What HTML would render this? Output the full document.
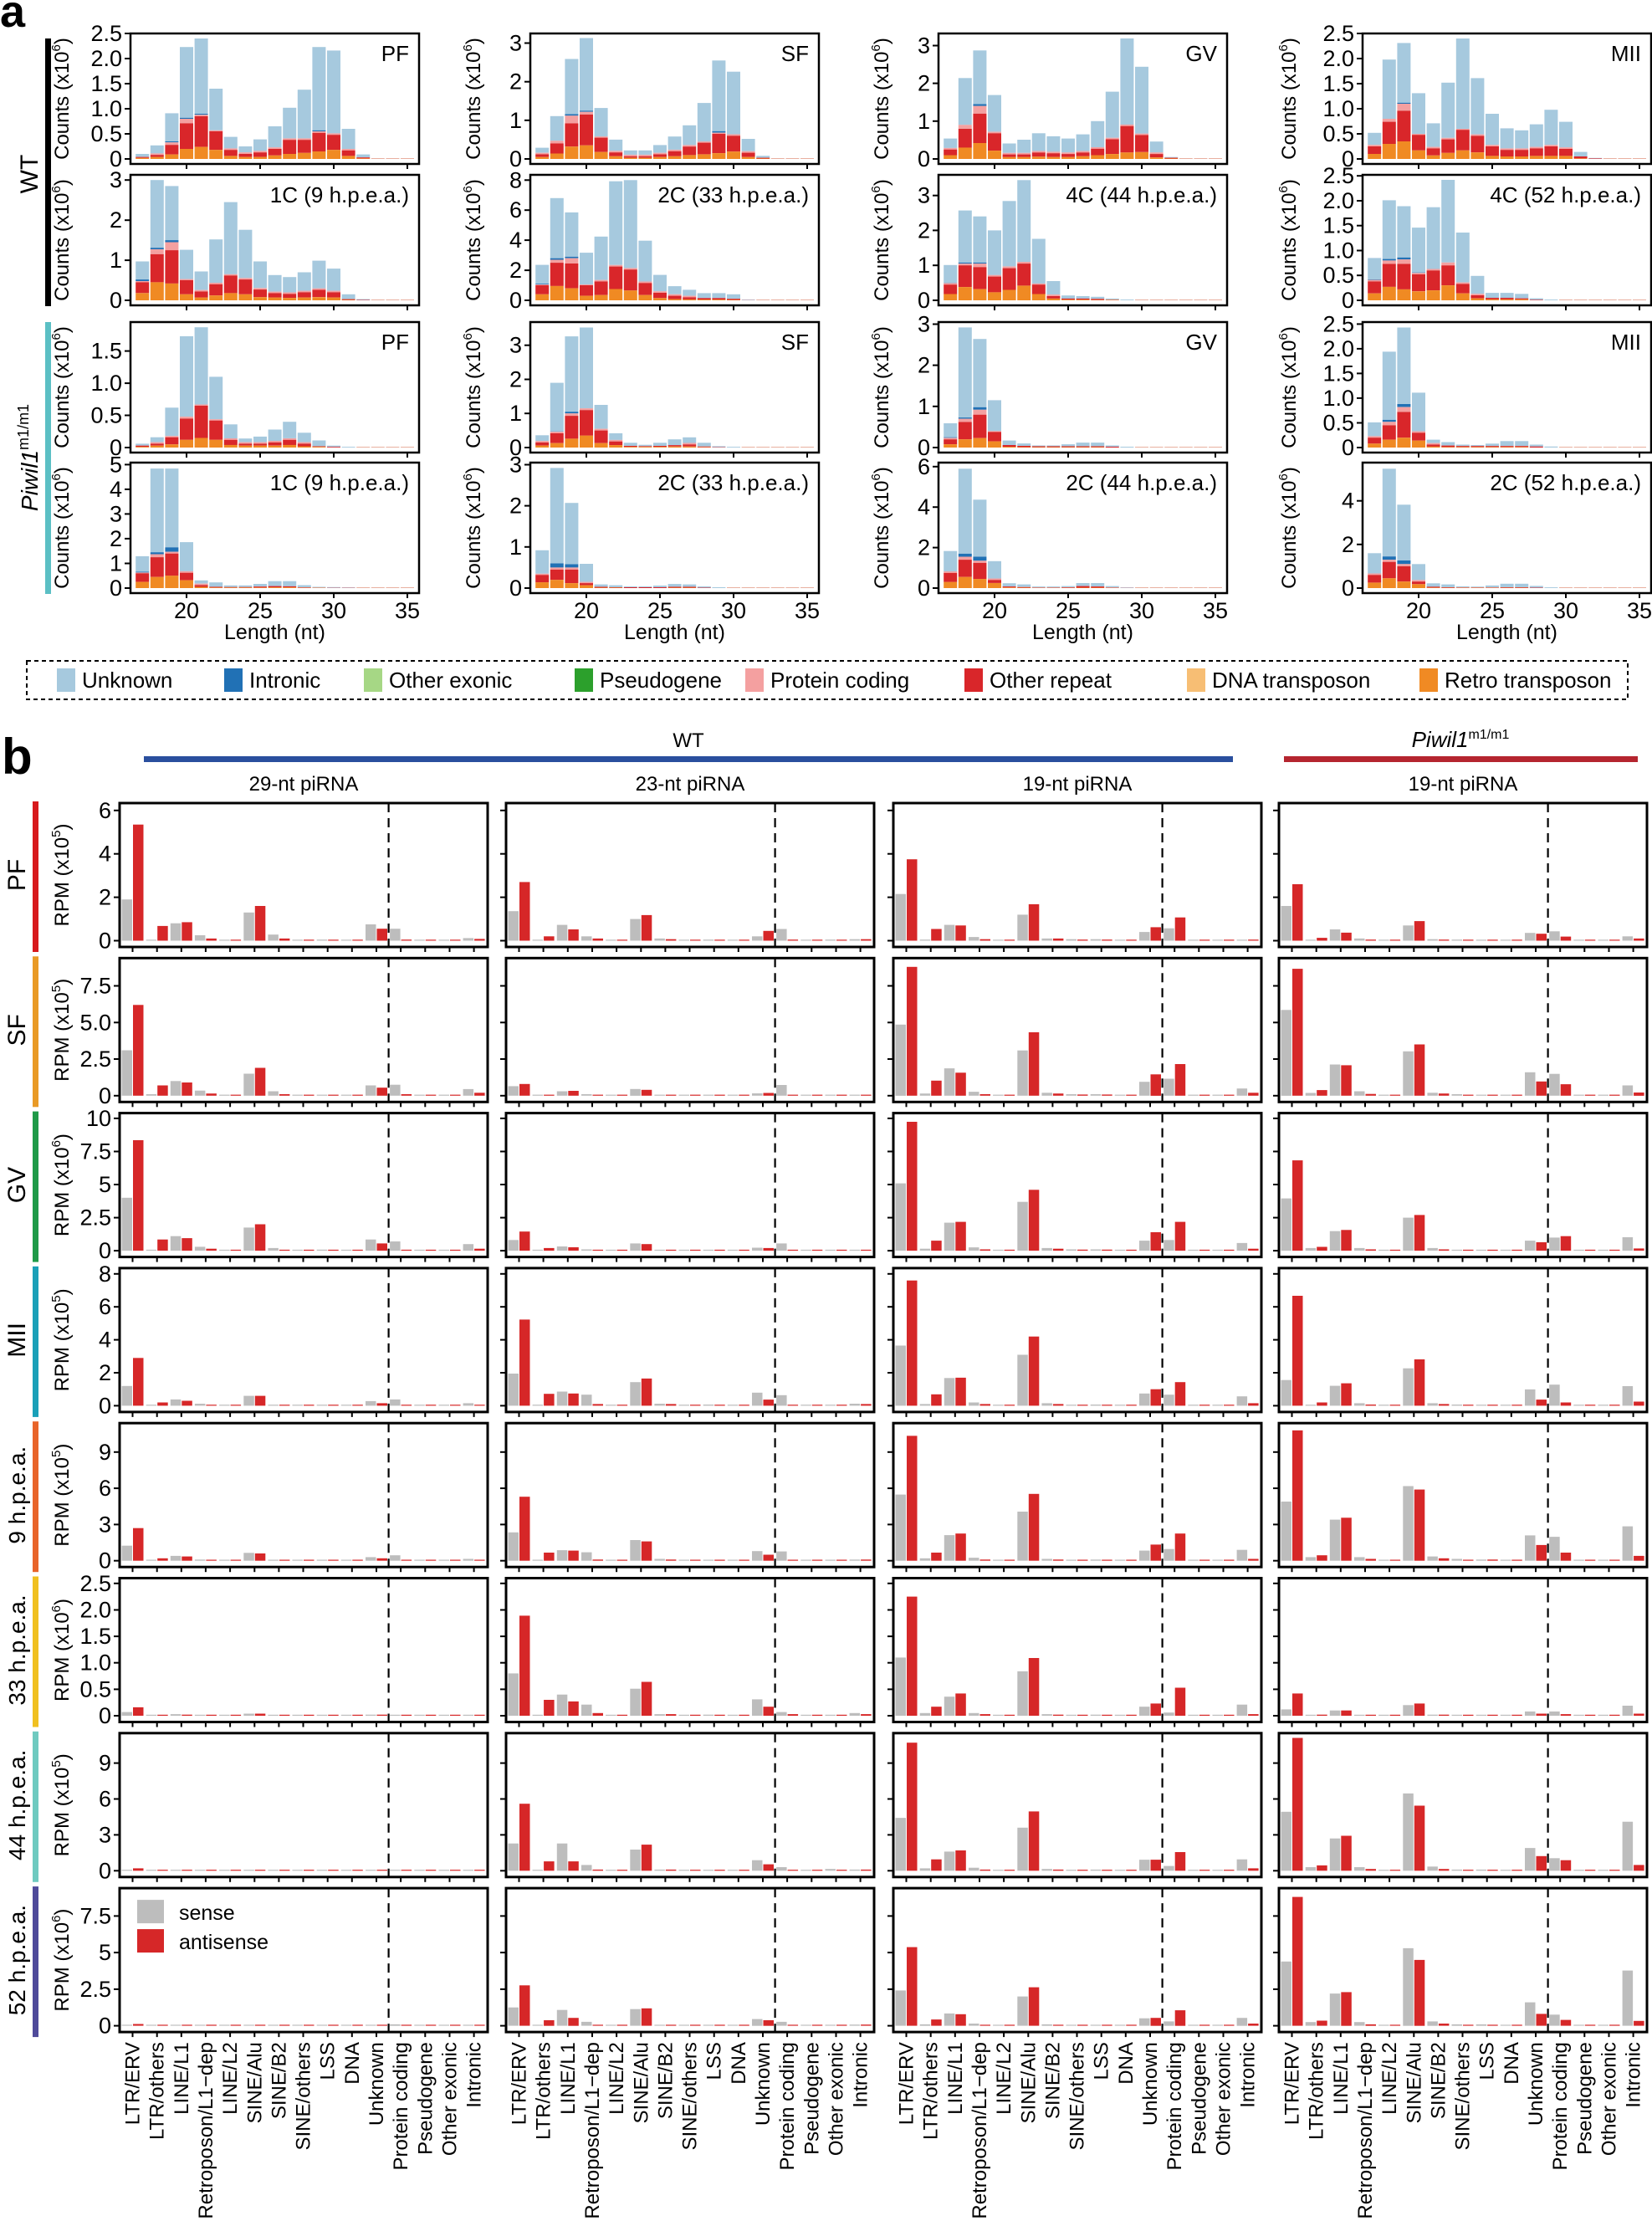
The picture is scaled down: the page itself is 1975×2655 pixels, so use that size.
<!DOCTYPE html>
<html><head><meta charset="utf-8"><style>html,body{margin:0;padding:0;background:#fff}svg{display:block}</style></head>
<body>
<svg id="s" xmlns="http://www.w3.org/2000/svg" width="1975" height="2655" viewBox="0 0 1975 2655" font-family="Liberation Sans, Arial, sans-serif">
<rect width="1975" height="2655" fill="#fff"/>
<text x="0" y="32" font-size="54" font-weight="bold">a</text>
<text x="2" y="925" font-size="60" font-weight="bold">b</text>
<rect x="54" y="46" width="7" height="320" fill="#000"/>
<text transform="translate(45,208) rotate(-90)" text-anchor="middle" font-size="30">WT</text>
<rect x="54" y="385" width="7" height="325" fill="#5bbfc4"/>
<text transform="translate(45,547) rotate(-90)" text-anchor="middle" font-size="28"><tspan font-style="italic">Piwil1</tspan><tspan font-size="18" dy="-11">m1/m1</tspan></text>
<rect x="32" y="790" width="1914" height="46" fill="none" stroke="#000" stroke-width="2" stroke-dasharray="5,4"/>
<rect x="172" y="904" width="1302" height="7" fill="#2a4f9e"/>
<rect x="1535" y="904" width="423" height="7" fill="#b5252f"/>
<text x="823" y="893" text-anchor="middle" font-size="24">WT</text>
<text x="1746" y="893" text-anchor="middle" font-size="26"><tspan font-style="italic">Piwil1</tspan><tspan font-size="16" dy="-10">m1/m1</tspan></text>
<text x="363" y="945" text-anchor="middle" font-size="24">29-nt piRNA</text>
<text x="825" y="945" text-anchor="middle" font-size="24">23-nt piRNA</text>
<text x="1288" y="945" text-anchor="middle" font-size="24">19-nt piRNA</text>
<text x="1749" y="945" text-anchor="middle" font-size="24">19-nt piRNA</text>
<g id="g"></g>
</svg>
<script>
(function(){
var out=[];
function R(x,y,w,h,f){if(!(h>0)||!(w>0))return;out.push('<rect x="'+x.toFixed(1)+'" y="'+y.toFixed(1)+'" width="'+w.toFixed(1)+'" height="'+h.toFixed(1)+'" fill="'+f+'"/>');}
function L(x1,y1,x2,y2,sw,extra){out.push('<line x1="'+x1+'" y1="'+y1+'" x2="'+x2+'" y2="'+y2+'" stroke="#000" stroke-width="'+sw+'" '+(extra||'')+'/>');}
function T(x,y,t,fs,anc,extra){out.push('<text x="'+x+'" y="'+y+'" font-size="'+fs+'" text-anchor="'+(anc||'start')+'" '+(extra||'')+'>'+t+'</text>');}
var C={unk:'#a6c9de',intr:'#2171b5',oex:'#a6d785',pseudo:'#2ca02c',prot:'#f4a0a0',rep:'#d9262a',dna:'#f7be74',retro:'#f08a23'};
var lg=[[68,'Unknown',C.unk],[268,'Intronic',C.intr],[435,'Other exonic',C.oex],[687,'Pseudogene',C.pseudo],[891,'Protein coding',C.prot],[1153,'Other repeat',C.rep],[1419,'DNA transposon',C.dna],[1697,'Retro transposon',C.retro]];
lg.forEach(function(a){R(a[0],799,22,28,a[2]);T(a[0]+30,822,a[1],26);});
var AL=[156,634,1122,1629],AT=[40,209,385,553],YLX=[-74,-60,-60,-80];
var A=[
[[2.5,[0,.5,1,1.5,2,2.5],['0','0.5','1.0','1.5','2.0','2.5'],'PF',
[.1,.27,.91,2.23,2.4,1.4,.44,.25,.39,.65,1.02,1.38,2.23,2.16,.6,.09],
[.04,.08,.28,.71,.85,.55,.18,.1,.13,.2,.38,.38,.52,.48,.17,.03],
[.02,.04,.09,.2,.24,.18,.06,.04,.04,.07,.1,.12,.15,.18,.06,.01],{19:.33,20:.8,21:.88,22:.57,29:.55},{19:.35,20:.82,21:.9,29:.57}],
[3.13,[0,1,2,3],null,'1C (9 h.p.e.a.)',
[.97,3.0,2.85,1.26,.72,1.52,2.45,1.76,.97,.63,.58,.7,.99,.79,.15,.03],
[.45,1.15,1.25,.5,.22,.4,.62,.52,.27,.18,.16,.2,.26,.2,.03,.01],
[.18,.45,.42,.15,.07,.12,.18,.15,.08,.07,.06,.07,.08,.07,.01,0],{17:.48,18:1.27,19:1.45,20:.53,23:.65},{17:.52,18:1.31,19:1.5}],
[1.95,[0,.5,1,1.5],['0','0.5','1.0','1.5'],'PF',
[.06,.16,.62,1.73,1.87,1.1,.36,.14,.17,.28,.4,.23,.11,.03,.01],
[.03,.06,.16,.45,.65,.42,.12,.06,.06,.08,.12,.06,.02,.01,0],
[.01,.03,.05,.12,.15,.12,.04,.03,.03,.03,.04,.02,.01,0,0],{19:.18,20:.48,21:.67,22:.44},{}],
[5.08,[0,1,2,3,4,5],null,'1C (9 h.p.e.a.)',
[1.29,4.84,4.84,1.86,.31,.23,.11,.11,.17,.28,.28,.12,.05,.04,.03],
[.6,1.25,1.4,.62,.12,.05,.04,.04,.06,.08,.07,.03,.02,.01,.01],
[.25,.45,.5,.32,.05,.02,.02,.02,.02,.03,.03,.01,.01,0,0],{17:.63,18:1.37,19:1.47,20:.68},{17:.66,18:1.45,19:1.65}]],
[[3.25,[0,1,2,3],null,'SF',
[.29,1.11,2.59,3.13,1.32,.5,.22,.22,.36,.58,.87,1.45,2.55,2.26,.52,.08],
[.12,.4,.92,1.15,.55,.17,.07,.07,.12,.2,.32,.42,.65,.6,.16,.03],
[.05,.14,.32,.35,.18,.07,.03,.03,.05,.07,.1,.12,.15,.19,.05,.01],{18:.47,19:1.12,20:1.22,21:.58,28:.45,29:.68},{19:1.16,20:1.25,29:.72}],
[8.35,[0,2,4,6,8],null,'2C (33 h.p.e.a.)',
[2.36,6.8,5.85,3.17,4.24,7.92,8.0,3.97,1.69,.94,.7,.48,.48,.4,.05],
[1.0,2.5,2.45,1.0,1.25,2.25,2.05,1.15,.5,.3,.2,.15,.15,.1,.01],
[.4,.95,.8,.3,.35,.75,.65,.35,.15,.08,.06,.05,.05,.03,0],{17:1.05,18:2.7,19:2.8,20:1.05,22:2.35},{17:1.1,18:2.8,19:2.9}],
[3.68,[0,1,2,3],null,'SF',
[.36,1.9,3.26,3.52,1.25,.42,.14,.08,.14,.24,.3,.14,.04,.02],
[.15,.42,.93,1.1,.5,.18,.05,.04,.05,.07,.09,.03,.01,0],
[.06,.13,.26,.35,.13,.07,.02,.02,.02,.03,.03,.01,0,0],{19:1.0,20:1.15,21:.55},{18:.47,19:1.05}],
[3.05,[0,1,2,3],null,'2C (33 h.p.e.a.)',
[.92,2.92,2.07,.59,.09,.07,.04,.04,.06,.1,.09,.04,.02],
[.32,.45,.45,.12,.03,.02,.02,.02,.02,.03,.03,.01,0],
[.14,.2,.12,.07,.01,.01,0,0,0,.01,.01,0,0],{17:.35,18:.5,19:.5,20:.15},{18:.6,19:.58}]],
[[3.32,[0,1,2,3],null,'GV',
[.54,2.14,2.87,1.69,.41,.51,.68,.6,.54,.65,1.0,1.78,3.19,2.44,.46,.05],
[.25,.8,1.2,.68,.12,.12,.17,.15,.13,.17,.27,.52,.87,.63,.13,.03],
[.1,.3,.42,.22,.05,.05,.06,.05,.05,.07,.1,.13,.17,.18,.04,.01],{18:.9,19:1.4,20:.72},{19:1.45,29:.9}],
[3.59,[0,1,2,3],null,'4C (44 h.p.e.a.)',
[1.01,2.57,2.4,2.0,2.84,3.44,1.76,.55,.14,.12,.1,.05,.02],
[.45,1.0,.95,.68,.92,1.05,.45,.12,.05,.05,.04,.02,0],
[.18,.38,.32,.23,.3,.42,.18,.05,.02,.02,.01,.01,0],{18:1.05,19:1.05,21:.97,22:1.1,23:.48},{17:.5,18:1.08,19:1.08,20:.72}],
[3.05,[0,1,2,3],null,'GV',
[.59,2.92,2.64,1.15,.17,.1,.05,.05,.08,.12,.12,.05,.02],
[.2,.62,.8,.38,.06,.04,.03,.03,.03,.03,.03,.02,0],
[.08,.2,.23,.15,.02,.01,.01,.01,.01,.01,.01,0,0],{18:.7,19:.92,20:.4},{17:.25,18:.73,19:.98}],
[6.2,[0,2,4,6],null,'2C (44 h.p.e.a.)',
[1.83,5.9,4.37,1.33,.24,.18,.08,.08,.1,.25,.25,.1,.03],
[.75,1.4,1.25,.4,.08,.05,.03,.03,.04,.1,.08,.03,.01],
[.3,.55,.45,.25,.03,.02,.01,.01,.01,.02,.02,.01,0],{18:1.55,19:1.35},{17:.8,18:1.7,19:1.55}]],
[[2.5,[0,.5,1,1.5,2,2.5],['0','0.5','1.0','1.5','2.0','2.5'],'MII',
[.52,1.98,2.31,1.31,.71,1.52,2.4,1.61,.9,.61,.57,.69,.98,.74,.14,.02],
[.25,.74,.96,.48,.21,.39,.58,.46,.25,.18,.18,.21,.25,.2,.05,.01],
[.1,.3,.35,.17,.07,.12,.17,.13,.06,.05,.05,.06,.06,.06,.01,0],{18:.8,19:1.1,20:.5,22:.42,23:.6},{19:1.12}],
[2.52,[0,.5,1,1.5,2,2.5],['0','0.5','1.0','1.5','2.0','2.5'],'4C (52 h.p.e.a.)',
[.85,2.01,1.89,1.46,1.87,2.42,1.36,.49,.15,.15,.13,.04,.01],
[.38,.73,.73,.52,.6,.7,.33,.1,.05,.05,.04,.01,0],
[.14,.27,.22,.18,.2,.3,.14,.04,.02,.02,.02,0,0],{18:.8,19:.82,22:.76,23:.36},{17:.42,18:.83,19:.86,20:.56}],
[2.54,[0,.5,1,1.5,2,2.5],['0','0.5','1.0','1.5','2.0','2.5'],'MII',
[.51,1.94,2.43,1.11,.16,.11,.06,.05,.08,.13,.13,.06,.02],
[.2,.45,.72,.3,.06,.04,.03,.03,.03,.03,.03,.02,0],
[.08,.16,.2,.14,.02,.01,.01,.01,.01,.01,.01,0,0],{18:.52,19:.82,20:.33},{17:.23,18:.56,19:.88}],
[5.75,[0,2,4],null,'2C (52 h.p.e.a.)',
[1.6,5.47,3.82,1.1,.22,.17,.08,.07,.12,.2,.2,.1,.02],
[.6,1.2,1.0,.3,.06,.04,.03,.03,.03,.04,.04,.02,0],
[.25,.45,.3,.18,.02,.01,.01,.01,.01,.01,.01,0,0],{18:1.3,19:1.1},{17:.65,18:1.45,19:1.27}]]];
function panelA(ci,ri){
 var d=A[ci][ri],x0=AL[ci],W=345,tp=AT[ri],H=156,bot=tp+H,zero=bot-6,ym=d[0],sc=(zero-tp)/ym;
 function Y(v){return zero-v*sc;}
 var Tt=d[4],Rr=d[5],Oo=d[6],P=d[7],B=d[8];
 for(var len=17;len<=35;len++){
  var i=len-17,cx=x0+67+(len-20)*17.6,bx=cx-8,bw=16;
  var t=Tt[i]||0,r=Rr[i]||0,o=Oo[i]||0;
  if(t<=0){R(bx,zero-1,bw,1,'#e8b0a0');continue;}
  var p=P[len]!==undefined?P[len]:r+(r>0.02*ym?0.012*ym:0);
  var b=B[len]!==undefined?B[len]:p;
  if(t<0.006*ym)t=0.006*ym;
  R(bx,Y(t),bw,Y(b)-Y(t),C.unk);
  R(bx,Y(b),bw,Y(p)-Y(b),C.intr);
  R(bx,Y(p),bw,Y(r)-Y(p),C.prot);
  R(bx,Y(r),bw,Y(o)-Y(r),C.rep);
  R(bx,Y(o),bw,zero-Y(o),C.retro);
 }
 out.push('<rect x="'+x0+'" y="'+tp+'" width="'+W+'" height="'+H+'" fill="none" stroke="#000" stroke-width="2.5"/>');
 d[1].forEach(function(v,k){var y=Y(v);L(x0-7,y.toFixed(1),x0,y.toFixed(1),2);T(x0-10,(y+9).toFixed(1),d[2]?d[2][k]:String(v),27,'end');});
 [20,25,30,35].forEach(function(v){var x=x0+67+(v-20)*17.6;L(x,bot,x,bot+6,2);if(ri==3)T(x,739,String(v),27,'middle');});
 if(ri==3)T(x0+W/2,764,'Length (nt)',25,'middle');
 T(x0+W-12,tp+33,d[3],26,'end');
 var cy=tp+H/2,lx=x0+YLX[ci];
 out.push('<text transform="translate('+lx+','+cy+') rotate(-90)" text-anchor="middle" font-size="24">Counts (x10<tspan font-size="15" dy="-10">6</tspan><tspan dy="10">)</tspan></text>');
}
for(var ci=0;ci<4;ci++)for(var ri=0;ri<4;ri++)panelA(ci,ri);
var BL=[143,605,1068,1529];
var YM=[6.34,9.4,10.4,8.35,11.4,2.6,11.5,9.4];
var TK=[[[0,2,4,6],['0','2','4','6']],[[0,2.5,5,7.5],['0','2.5','5.0','7.5']],[[0,2.5,5,7.5,10],['0','2.5','5','7.5','10']],[[0,2,4,6,8],['0','2','4','6','8']],[[0,3,6,9],['0','3','6','9']],[[0,.5,1,1.5,2,2.5],['0','0.5','1.0','1.5','2.0','2.5']],[[0,3,6,9],['0','3','6','9']],[[0,2.5,5,7.5],['0','2.5','5','7.5']]];
var EX=[5,5,6,5,5,6,5,6];
var RL=['PF','SF','GV','MII','9 h.p.e.a.','33 h.p.e.a.','44 h.p.e.a.','52 h.p.e.a.'];
var RC=['#d7191c','#e99a26','#1f9a48','#1aa0b8','#e8642a','#f0c020','#6fcac0','#4f4a9a'];
var CATS=['LTR/ERV','LTR/others','LINE/L1','Retroposon/L1\u2212dep','LINE/L2','SINE/Alu','SINE/B2','SINE/others','LSS','DNA','Unknown','Protein coding','Pseudogene','Other exonic','Intronic'];
var D=[
[[1.9,5.35,.03,.68,.8,.85,.25,.1,0,0,1.3,1.6,.28,.1,.02,.02,.05,.02,.01,.02,.75,.55,.55,.05,0,0,0,0,.12,.08],
[1.36,2.7,.02,.2,.73,.52,.2,.1,0,0,1.0,1.18,.1,.07,.03,.03,.05,.03,.02,.02,.2,.45,.54,.05,0,0,.05,.03,.07,.07],
[2.15,3.75,.05,.54,.73,.7,.17,.07,0,0,1.2,1.68,.1,.1,.07,.05,.07,.05,.02,.03,.4,.62,.57,1.07,0,0,0,0,.04,.05],
[1.6,2.6,.02,.13,.52,.37,.1,.05,0,0,.7,.9,.07,.05,.05,.03,.04,.03,0,.02,.36,.32,.43,.19,0,0,0,0,.2,.1]],
[[3.1,6.2,.1,.7,1.0,.9,.35,.15,0,0,1.5,1.9,.3,.1,.05,.05,.05,.05,.02,.02,.7,.55,.75,.1,0,0,0,0,.45,.2],
[.65,.8,0,.07,.3,.33,.1,.05,0,0,.46,.4,.05,.05,0,.03,.03,.03,0,.02,.16,.19,.73,.05,0,0,.03,.03,.05,.05],
[4.86,8.8,.15,1.03,1.87,1.57,.27,.1,0,0,3.09,4.33,.2,.15,.1,.08,.1,.08,.03,.05,.95,1.46,1.16,2.16,0,0,0,0,.49,.2],
[5.86,8.67,.19,.38,2.13,2.08,.3,.12,0,0,3.03,3.5,.2,.15,.1,.07,.07,.07,0,.05,1.6,.97,1.49,.78,0,0,0,.02,.7,.22]],
[[4.0,8.35,.05,.85,1.1,.95,.3,.15,0,0,1.75,2.0,.2,.05,.02,.05,.08,.03,.02,.03,.85,.55,.7,.05,0,0,0,0,.5,.15],
[.81,1.45,0,.2,.32,.26,.1,.03,0,0,.55,.5,.05,.05,0,.02,.02,.02,0,.02,.23,.2,.55,.05,0,0,0,0,.05,.05],
[5.09,9.74,.15,.76,2.12,2.18,.25,.1,0,0,3.69,4.6,.2,.15,.1,.08,.1,.08,0,.05,.76,1.4,.81,2.18,0,0,0,0,.58,.15],
[3.95,6.83,.2,.29,1.48,1.57,.2,.1,0,0,2.5,2.7,.2,.1,.07,.07,.07,.05,0,.03,.76,.64,.99,1.1,0,0,0,0,1.02,.17]],
[[1.2,2.9,.02,.2,.38,.3,.12,.05,0,0,.6,.6,.05,.05,.02,.02,.02,.02,0,0,.28,.15,.38,.03,0,0,0,0,.15,.05],
[1.95,5.23,.05,.72,.86,.74,.67,.1,0,0,1.43,1.65,.12,.1,.04,.04,.07,.03,.02,.03,.79,.37,.64,.05,0,0,.04,.02,.12,.1],
[3.65,7.6,.1,.69,1.68,1.7,.2,.1,0,0,3.09,4.2,.15,.1,.05,.05,.07,.05,0,.03,.74,1.0,.67,1.43,0,0,0,0,.57,.15],
[1.56,6.67,.05,.2,1.21,1.36,.15,.07,0,0,2.27,2.81,.15,.1,.07,.05,.05,.05,0,.03,.99,.37,1.28,.2,0,0,0,0,1.19,.25]],
[[1.25,2.7,.03,.2,.4,.35,.1,.05,0,0,.65,.6,.05,.05,.02,.02,.02,.02,0,.03,.3,.2,.45,.03,0,0,0,0,.15,.05],
[2.35,5.3,.05,.67,.87,.84,.7,.1,0,0,1.71,1.6,.15,.1,.03,.03,.07,.03,.02,.02,.8,.5,.77,.05,0,0,.05,.02,.1,.1],
[5.48,10.35,.2,.67,2.12,2.25,.25,.1,0,0,4.07,5.54,.15,.1,.07,.07,.1,.07,0,.03,.84,1.34,.97,2.25,0,0,0,0,.9,.15],
[4.9,10.8,.3,.45,3.4,3.56,.3,.15,0,0,6.18,5.9,.35,.2,.15,.07,.1,.1,.02,.05,2.1,1.3,1.98,.67,0,0,0,0,2.85,.4]],
[[.07,.16,0,.01,.03,.02,.01,.01,0,0,.04,.04,.01,.01,0,0,0,0,0,0,.02,.02,.01,0,0,0,0,0,.01,.01],
[.8,1.89,.01,.3,.4,.27,.21,.05,0,0,.51,.64,.03,.03,.01,.01,.02,.01,0,.01,.31,.17,.07,.03,0,0,.01,.01,.05,.03],
[1.1,2.25,.05,.17,.36,.42,.05,.03,0,0,.84,1.09,.03,.02,.01,.01,.02,.01,0,.01,.17,.23,.06,.53,0,0,0,0,.21,.03],
[.12,.42,0,.02,.1,.1,.01,.01,0,0,.2,.23,.02,.02,.01,.01,.01,0,.01,.01,.08,.04,.08,.03,0,0,0,0,.19,.04]],
[[.05,.2,0,.05,.02,.05,0,0,0,0,.02,.05,0,0,0,0,0,0,0,0,.02,.05,0,0,0,0,0,0,0,0],
[2.28,5.6,0,.78,2.28,.78,.48,.1,0,0,1.77,2.18,.1,.1,.03,.03,.05,.03,.02,.02,.88,.54,.3,.05,0,0,.15,.05,.1,.1],
[4.42,10.7,.2,.95,1.6,1.7,.25,.1,0,0,3.6,4.96,.15,.1,.07,.07,.1,.07,0,.05,.92,.92,.4,1.56,0,0,0,0,.95,.2],
[4.93,11.1,.3,.45,2.7,2.92,.3,.15,0,0,6.46,5.44,.35,.15,.1,.07,.1,.05,0,.07,1.9,1.22,1.05,.88,0,0,0,0,4.1,.48]],
[[.05,.12,0,.02,0,.05,0,0,0,0,0,.05,0,0,0,0,0,0,0,0,0,.05,.1,.05,0,0,0,0,0,0],
[1.25,2.76,0,.38,1.08,.54,.27,.05,0,0,1.14,1.19,.05,.05,.02,.02,.03,.02,.02,.02,.46,.38,.27,.05,0,0,.05,.02,.08,.08],
[2.41,5.37,.1,.43,.84,.79,.15,.07,0,0,2.0,2.63,.1,.07,.05,.05,.07,.05,0,.03,.51,.54,.3,1.06,0,0,0,0,.54,.15],
[4.39,8.8,.25,.35,2.2,2.3,.25,.1,0,0,5.3,4.5,.3,.15,.1,.05,.1,.05,0,.05,1.6,.81,.76,.4,0,0,0,0,3.77,.33]]];
function panelB(r){
 var tp=960+r*185.3,H=172,bot=tp+H,zero=bot-7.5,ym=YM[r],sc=(zero-tp)/ym;
 R(39,tp-2,7,H+8,RC[r]);
 out.push('<text transform="translate(30,'+(tp+H/2).toFixed(1)+') rotate(-90)" text-anchor="middle" font-size="'+(r<4?30:28)+'">'+RL[r]+'</text>');
 out.push('<text transform="translate(82,'+(tp+H/2).toFixed(1)+') rotate(-90)" text-anchor="middle" font-size="24">RPM (x10<tspan font-size="15" dy="-10">'+EX[r]+'</tspan><tspan dy="10">)</tspan></text>');
 for(var c=0;c<4;c++){
  var x0=BL[c],W=440,dd=D[r][c];
  for(var i=0;i<15;i++){
   var tx=x0+15.5+i*29.15,sv=dd[2*i],av=dd[2*i+1];
   var hs=Math.max(sv*sc,1.2),ha=Math.max(av*sc,1.2);
   R(tx-13,zero-hs,12.5,hs,'#bdbdbd');
   R(tx+0.5,zero-ha,12.5,ha,'#d62728');
   L(tx.toFixed(1),bot.toFixed(1),tx.toFixed(1),(bot+6).toFixed(1),2);
   if(r==7){var y=(bot+12).toFixed(1);out.push('<text transform="translate('+(tx+8).toFixed(1)+','+y+') rotate(-90)" text-anchor="end" font-size="24">'+CATS[i]+'</text>');}
  }
  var dx=(x0+15.5+10.5*29.15).toFixed(1);
  L(dx,tp.toFixed(1),dx,bot.toFixed(1),2.2,'stroke-dasharray="11,7"');
  out.push('<rect x="'+x0+'" y="'+tp.toFixed(1)+'" width="'+W+'" height="'+H+'" fill="none" stroke="#000" stroke-width="3"/>');
  TK[r][0].forEach(function(v,k){var y=(zero-v*sc).toFixed(1);L(x0-7,y,x0,y,2);if(c==0)T(x0-10,(zero-v*sc+9).toFixed(1),TK[r][1][k],27,'end');});
 }
}
for(var r=0;r<8;r++)panelB(r);
var t8=960+7*185.3;
R(164,t8+14,32,28,'#bdbdbd');T(214,(t8+38).toFixed(1),'sense',25);
R(164,t8+49,32,28,'#d62728');T(214,(t8+73).toFixed(1),'antisense',25);
document.getElementById('g').innerHTML=out.join('');
})();
</script>
</body></html>
